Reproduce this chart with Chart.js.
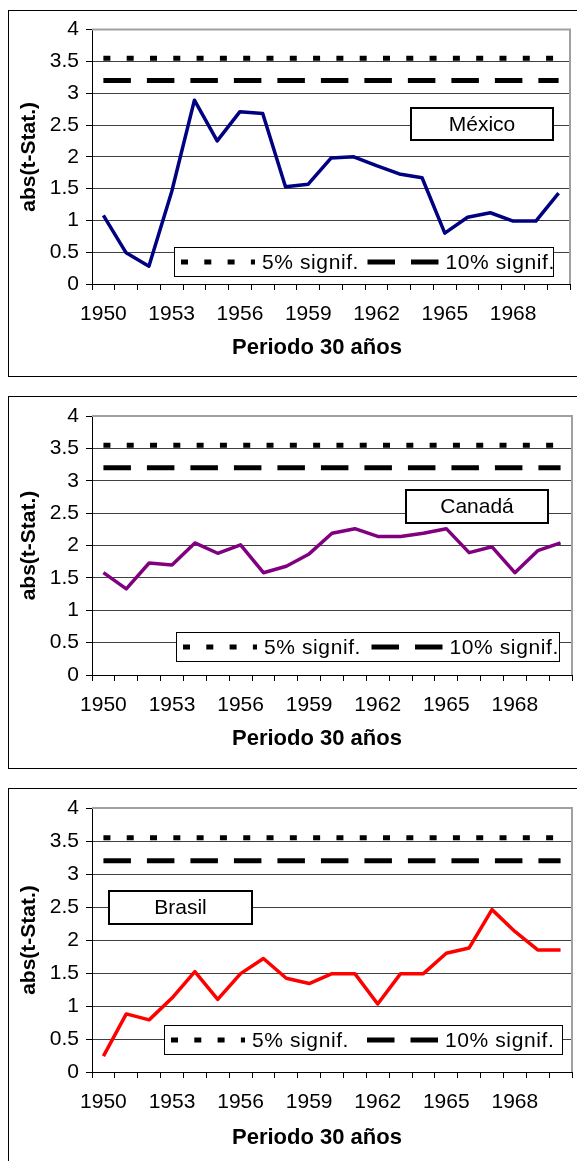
<!DOCTYPE html>
<html>
<head>
<meta charset="utf-8">
<title>abs(t-Stat.) - Periodo 30 años</title>
<script src="https://cdn.jsdelivr.net/npm/chart.js@4.4.3/dist/chart.umd.min.js"></script>
<style>
    html, body { margin: 0; padding: 0; background: #fff; overflow: hidden; }
    body { position: relative; width: 577px; height: 1161px; }
    .frame { position: absolute; left: 8px; width: 640px; border: 1px solid #000; box-sizing: border-box; }
    .plot { position: absolute; left: 0; width: 577px; }
    .plot canvas { display: block; }
</style>
</head>
<body>
<div class="frame" style="top:10px;height:367px"></div>
<div class="frame" style="top:396px;height:373px"></div>
<div class="frame" style="top:788px;height:420px"></div>

<div class="plot" style="top:10px"><canvas id="mexicoChart" width="577" height="366"></canvas></div>
<div class="plot" style="top:396px"><canvas id="canadaChart" width="577" height="372"></canvas></div>
<div class="plot" style="top:788px"><canvas id="brasilChart" width="577" height="373"></canvas></div>

<script>
// values
const years = ['1950', '1951', '1952', '1953', '1954', '1955', '1956', '1957', '1958', '1959', '1960',
               '1961', '1962', '1963', '1964', '1965', '1966', '1967', '1968', '1969', '1970'];
const xTickLabels = ['1950', '', '', '1953', '', '', '1956', '', '', '1959', '', '',
                     '1962', '', '', '1965', '', '', '1968', '', ''];
const yTickLabels = ['0', '0.5', '1', '1.5', '2', '2.5', '3', '3.5', '4'];

const mexico = [1.08, 0.49, 0.28, 1.45, 2.89, 2.25, 2.71, 2.68, 1.53, 1.57, 1.98,
                2.00, 1.86, 1.73, 1.67, 0.80, 1.05, 1.12, 0.99, 0.99, 1.43];
const canada = [1.58, 1.33, 1.73, 1.70, 2.04, 1.88, 2.01, 1.58, 1.68, 1.87, 2.19,
                2.26, 2.14, 2.14, 2.19, 2.26, 1.89, 1.98, 1.58, 1.92, 2.04];
const brasil = [0.24, 0.88, 0.79, 1.12, 1.52, 1.10, 1.49, 1.72, 1.42, 1.34, 1.49,
                1.49, 1.03, 1.49, 1.49, 1.80, 1.88, 2.46, 2.13, 1.85, 1.85];
const signif5 = [3.55, 3.55, 3.55, 3.55, 3.55, 3.55, 3.55, 3.55, 3.55, 3.55, 3.55,
                 3.55, 3.55, 3.55, 3.55, 3.55, 3.55, 3.55, 3.55, 3.55, 3.55];
const signif10 = [3.2, 3.2, 3.2, 3.2, 3.2, 3.2, 3.2, 3.2, 3.2, 3.2, 3.2,
                  3.2, 3.2, 3.2, 3.2, 3.2, 3.2, 3.2, 3.2, 3.2, 3.2];

const FONT = "'Liberation Sans', Arial, sans-serif";
const X_TITLE = 'Periodo 30 años';
Chart.defaults.color = '#000';
Chart.defaults.font.family = FONT;

// gray frame on the plot area, x title, country box and legend box
const panelBoxes = {
    id: 'panelBoxes',
    beforeDatasetsDraw(chart) {
        const { ctx, chartArea: a } = chart;
        ctx.save();
        ctx.strokeStyle = '#a0a0a0';
        ctx.lineWidth = 2;
        ctx.beginPath();
        ctx.moveTo(a.left, a.top);
        ctx.lineTo(a.right, a.top);
        ctx.lineTo(a.right, a.bottom);
        ctx.stroke();
        ctx.restore();
    },
    afterDatasetsDraw(chart, args, opts) {
        const ctx = chart.ctx;

        // axis title, centred like the original (a bit left of the plot centre)
        ctx.save();
        ctx.fillStyle = '#000';
        ctx.font = 'bold 22px ' + FONT;
        ctx.textAlign = 'center';
        ctx.textBaseline = 'middle';
        ctx.fillText(X_TITLE, opts.titleX, chart.chartArea.bottom + opts.titleDy);
        ctx.restore();

        const nb = opts.nameBox;
        ctx.save();
        ctx.fillStyle = '#fff';
        ctx.fillRect(nb.x, nb.y, nb.w, nb.h);
        ctx.strokeStyle = '#000';
        ctx.lineWidth = 2;
        ctx.strokeRect(nb.x, nb.y, nb.w, nb.h);
        ctx.fillStyle = '#000';
        ctx.font = '21px ' + FONT;
        ctx.textAlign = 'center';
        ctx.textBaseline = 'middle';
        ctx.fillText(opts.name, nb.x + nb.w / 2, nb.y + nb.h / 2 + 1);
        ctx.restore();

        const lb = opts.legendBox;
        ctx.save();
        ctx.fillStyle = '#fff';
        ctx.fillRect(lb.x, lb.y, lb.w, lb.h);
        ctx.strokeStyle = '#000';
        ctx.lineWidth = 1;
        ctx.strokeRect(lb.x + 0.5, lb.y + 0.5, lb.w, lb.h);
        const cy = lb.y + lb.h / 2 + 0.5;
        const items = chart.data.datasets.filter(d => d.inLegend);
        items.forEach((d, i) => {
            const x0 = lb.x + (i === 0 ? 7 : lb.w / 2 + 4);
            const len = i === 0 ? 74 : 71;
            ctx.setLineDash(d.borderDash);
            ctx.lineWidth = d.borderWidth;
            ctx.strokeStyle = d.borderColor;
            ctx.beginPath();
            ctx.moveTo(x0, cy);
            ctx.lineTo(x0 + len, cy);
            ctx.stroke();
            ctx.setLineDash([]);
            ctx.fillStyle = '#000';
            ctx.font = '21px ' + FONT;
            ctx.letterSpacing = '0.6px';
            ctx.textAlign = 'left';
            ctx.textBaseline = 'middle';
            ctx.fillText(d.label, x0 + len + 7, cy + 1);
        });
        ctx.restore();
    }
};

function drawPanel(canvasId, name, values, color, layout) {
    return new Chart(document.getElementById(canvasId), {
        type: 'line',
        data: {
            labels: years,
            datasets: [
                {
                    label: name,
                    data: values,
                    borderColor: color,
                    borderWidth: 3.5,
                    borderJoinStyle: 'round',
                    pointRadius: 0,
                    tension: 0
                },
                {
                    label: '5% signif.',
                    data: signif5,
                    borderColor: '#000',
                    borderWidth: 5,
                    borderDash: [7, 16.3],
                    pointRadius: 0,
                    inLegend: true
                },
                {
                    label: '10% signif.',
                    data: signif10,
                    borderColor: '#000',
                    borderWidth: 5,
                    borderDash: [27.5, 16],
                    pointRadius: 0,
                    inLegend: true
                }
            ]
        },
        options: {
            responsive: false,
            animation: false,
            events: [],
            layout: { padding: { top: layout.padTop, right: layout.padRight, left: 0, bottom: 0 } },
            plugins: {
                legend: { display: false },
                tooltip: { enabled: false },
                panelBoxes: {
                    name: name,
                    nameBox: layout.nameBox,
                    legendBox: layout.legendBox,
                    titleX: 317,
                    titleDy: layout.titleDy
                }
            },
            scales: {
                x: {
                    offset: true,
                    grid: {
                        offset: true,
                        drawOnChartArea: false,
                        tickLength: 6,
                        tickColor: '#000'
                    },
                    border: { color: '#000', width: 1 },
                    ticks: {
                        autoSkip: false,
                        maxRotation: 0,
                        minRotation: 0,
                        padding: 12,
                        font: { size: 21 },
                        callback: (value, index) => xTickLabels[index]
                    },
                    afterFit: (scale) => { scale.height = layout.xAxisHeight; }
                },
                y: {
                    min: 0,
                    max: 4,
                    ticks: {
                        stepSize: 0.5,
                        padding: 7,
                        font: { size: 21 },
                        callback: (value, index) => yTickLabels[index]
                    },
                    grid: {
                        color: (c) => (c.tick && c.tick.value === 4 ? '#a0a0a0' : '#404040'),
                        tickColor: '#000',
                        tickLength: 6
                    },
                    border: { color: '#000', width: 1 },
                    title: {
                        display: true,
                        text: 'abs(t-Stat.)',
                        font: { size: 21, weight: 'bold' },
                        padding: { top: 17, bottom: 0 }
                    },
                    afterFit: (scale) => { scale.width = 92; }
                }
            }
        },
        plugins: [panelBoxes]
    });
}

drawPanel('mexicoChart', 'México', mexico, '#000080', {
    padTop: 19.5, padRight: 7, xAxisHeight: 92, titleDy: 64,
    nameBox: { x: 411, y: 98, w: 142, h: 32 },
    legendBox: { x: 174, y: 237, w: 379, h: 29 }
});
drawPanel('canadaChart', 'Canadá', canada, '#800080', {
    padTop: 20, padRight: 5, xAxisHeight: 93, titleDy: 63.5,
    nameBox: { x: 406, y: 94, w: 142, h: 33 },
    legendBox: { x: 176, y: 236, w: 383, h: 29 }
});
drawPanel('brasilChart', 'Brasil', brasil, '#ff0000', {
    padTop: 20, padRight: 5, xAxisHeight: 89, titleDy: 65.5,
    nameBox: { x: 109, y: 103, w: 143, h: 33 },
    legendBox: { x: 164, y: 237, w: 398, h: 29 }
});
</script>
</body>
</html>
